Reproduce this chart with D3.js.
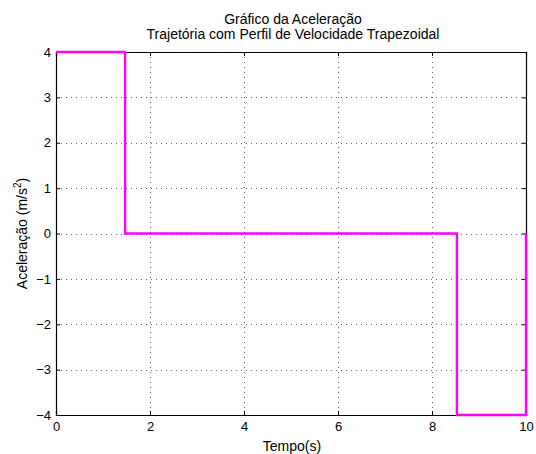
<!DOCTYPE html>
<html><head><meta charset="utf-8">
<script src="https://cdn.jsdelivr.net/npm/d3@7"></script>
<style>body{margin:0;background:#fff}text{font-family:"Liberation Sans",Arial,sans-serif;}</style>
</head><body><svg id="c" width="536" height="454"></svg>
<script>
const timeValues = [0, 1.47, 1.47, 8.53, 8.53, 10, 10];
const accelValues = [4, 4, 0, 0, -4, -4, 0];
const xTicks = [0, 2, 4, 6, 8, 10];
const yTicks = [-4, -3, -2, -1, 0, 1, 2, 3, 4];
const titleLines = ["Gráfico da Aceleração", "Trajetória com Perfil de Velocidade Trapezoidal"];
const xLabel = "Tempo(s)";

const svg = d3.select("#c");
const L = 56, R = 526, T = 52, B = 415;
const x = d3.scaleLinear().domain([0, 10]).range([L, R]);
const y = d3.scaleLinear().domain([-4, 4]).range([B, T]);

svg.append("rect").attr("x",0).attr("y",0).attr("width",536).attr("height",454).attr("fill","#fff");

// grid
const g = svg.append("g");
g.selectAll(".gx").data(xTicks.filter(d=>d>0&&d<10)).enter().append("line")
 .attr("x1",d=>Math.round(x(d))+0.5).attr("x2",d=>Math.round(x(d))+0.5).attr("y1",T).attr("y2",B)
 .attr("stroke","#000").attr("stroke-width",1).attr("stroke-dasharray","1,4").attr("opacity",0.6);
g.selectAll(".gy").data(yTicks.filter(d=>d>-4&&d<4)).enter().append("line")
 .attr("y1",d=>Math.round(y(d))+0.5).attr("y2",d=>Math.round(y(d))+0.5).attr("x1",L).attr("x2",R)
 .attr("stroke","#000").attr("stroke-width",1).attr("stroke-dasharray","1,4").attr("opacity",0.6);

// axes
const xa = svg.append("g").attr("transform",`translate(0,${B})`)
 .call(d3.axisBottom(x).tickValues(xTicks).tickSize(-4).tickPadding(7).tickFormat(d3.format("d")));
const xt = svg.append("g").attr("transform",`translate(0,${T})`)
 .call(d3.axisTop(x).tickValues(xTicks).tickSize(-4).tickFormat(""));
const ya = svg.append("g").attr("transform",`translate(${L},0)`)
 .call(d3.axisLeft(y).tickValues(yTicks).tickSize(-4).tickPadding(5).tickFormat(d=>d<0?"\u2212"+Math.abs(d):d));
const yr = svg.append("g").attr("transform",`translate(${R},0)`)
 .call(d3.axisRight(y).tickValues(yTicks).tickSize(-4).tickFormat(""));
[xa,xt,ya,yr].forEach(a=>{
  a.selectAll("path").attr("stroke","#000").attr("stroke-width",1.2);
  a.selectAll("line").attr("stroke","#000");
  a.selectAll("text").attr("fill","#000").style("font-size","13px").style("font-family","Liberation Sans, Arial, sans-serif");
});

// line
const line = d3.line().x((d,i)=>x(timeValues[i])).y((d,i)=>y(accelValues[i]));
svg.append("path").datum(timeValues).attr("d",line)
 .attr("fill","none").attr("stroke","#ff00ff").attr("stroke-width",2.4);

// titles
svg.append("text").attr("x",(L+R)/2 + 2).attr("y",24).attr("text-anchor","middle").style("font-size","14px").text(titleLines[0]);
svg.append("text").attr("x",(L+R)/2 + 2).attr("y",39).attr("text-anchor","middle").style("font-size","14px").text(titleLines[1]);
svg.append("text").attr("x",292).attr("y",451).attr("text-anchor","middle").style("font-size","14px").text(xLabel);
const yl = svg.append("text").attr("transform",`translate(27,${(T+B)/2}) rotate(-90)`).attr("text-anchor","middle").style("font-size","14px");
yl.append("tspan").text("Aceleração (m/s");
yl.append("tspan").attr("dy",-6).style("font-size","10px").text("2");
yl.append("tspan").attr("dy",6).text(")");
</script></body></html>
